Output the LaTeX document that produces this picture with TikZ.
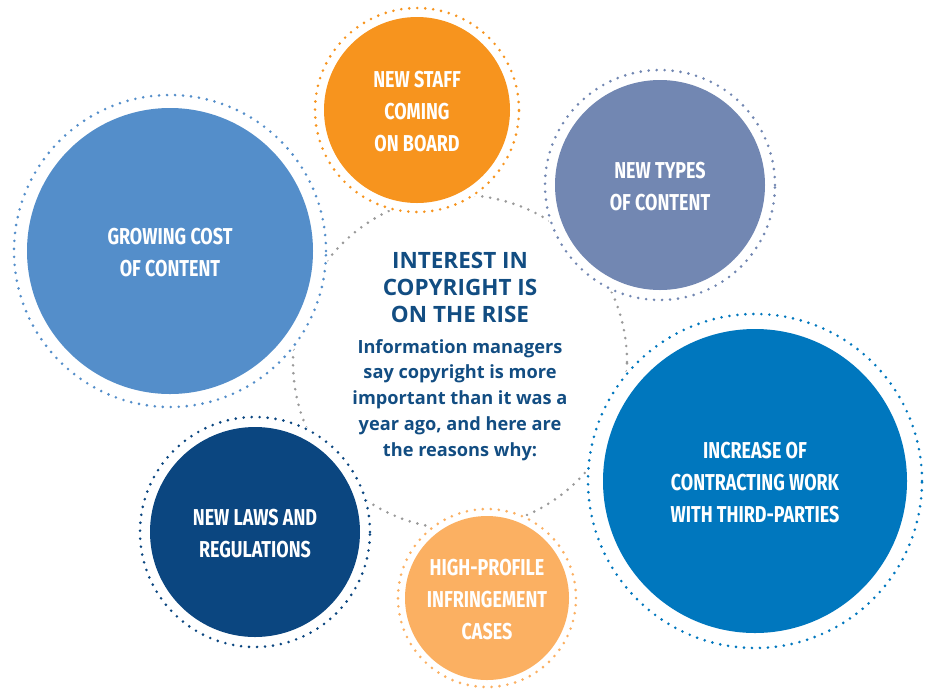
\documentclass[tikz,border=0pt]{standalone}
\usepackage{fontspec}
\setmainfont{Fira Sans}
\newfontfamily\bubblefont[FakeStretch=0.78]{Fira Sans}
\newfontfamily\hubfont{Open Sans}

\definecolor{costblue}{HTML}{548ECA}
\definecolor{stafforange}{HTML}{F7941E}
\definecolor{typesslate}{HTML}{7287B2}
\definecolor{contractblue}{HTML}{0077BE}
\definecolor{lawsnavy}{HTML}{0B4680}
\definecolor{casesorange}{HTML}{FBB062}
\definecolor{hubgray}{HTML}{9A9A9A}
\definecolor{hubnavy}{HTML}{124D82}

\tikzset{
    ring/.style={dash pattern=on 0pt off 8pt, line cap=round, line width=2.9pt},
    bubble/.style={circle, inner sep=0pt, text=white, align=center,
        font=\bubblefont\bfseries\fontsize{23}{32}\selectfont},
}

\begin{document}
\begin{tikzpicture}[x=1pt, y=-1pt]
    \useasboundingbox (0,0) rectangle (928,689);
    % the grey ring in the middle
    \node[circle, ring, draw=hubgray, minimum size=334pt, inner sep=0pt] (hub) at (460,362) {};
    % the reasons
    \foreach \nm/\cx/\cy/\d/\rr/\col/\txt in {
        cost/170/251/286/156/costblue/{GROWING COST\\OF CONTENT},
        staff/417/110/186/102/stafforange/{NEW STAFF\\COMING\\ON BOARD},
        types/660/185/210/115/typesslate/{NEW TYPES\\OF CONTENT},
        contract/755/481/304/167/contractblue/{INCREASE OF\\CONTRACTING WORK\\WITH THIRD-PARTIES},
        laws/255/532/210/115/lawsnavy/{NEW LAWS AND\\REGULATIONS},
        cases/487/598/164/89/casesorange/{HIGH-PROFILE\\INFRINGEMENT\\CASES}}
    {
        \fill[white] (\cx,\cy) circle[radius=\rr pt+2pt];
        \draw[ring, draw=\col] (\cx,\cy) circle[radius=\rr pt];
        \node[bubble, fill=\col, minimum size=\d pt] (\nm) at (\cx,\cy) {};
        \node[bubble, yshift=-2pt] (\nm-text) at (\nm) {\txt};
    }
    \node[text=hubnavy, align=center, font=\hubfont\bfseries\fontsize{22.5}{27}\selectfont]
        (rise) at (460,287) {INTEREST IN\\COPYRIGHT IS\\ON THE RISE};
    \node[text=hubnavy, align=center, font=\hubfont\bfseries\fontsize{18.2}{25.8}\selectfont]
        (why) at (460,400) {Information managers\\say copyright is more\\important than it was a\\year ago, and here are\\the reasons why:};
\end{tikzpicture}
\end{document}
